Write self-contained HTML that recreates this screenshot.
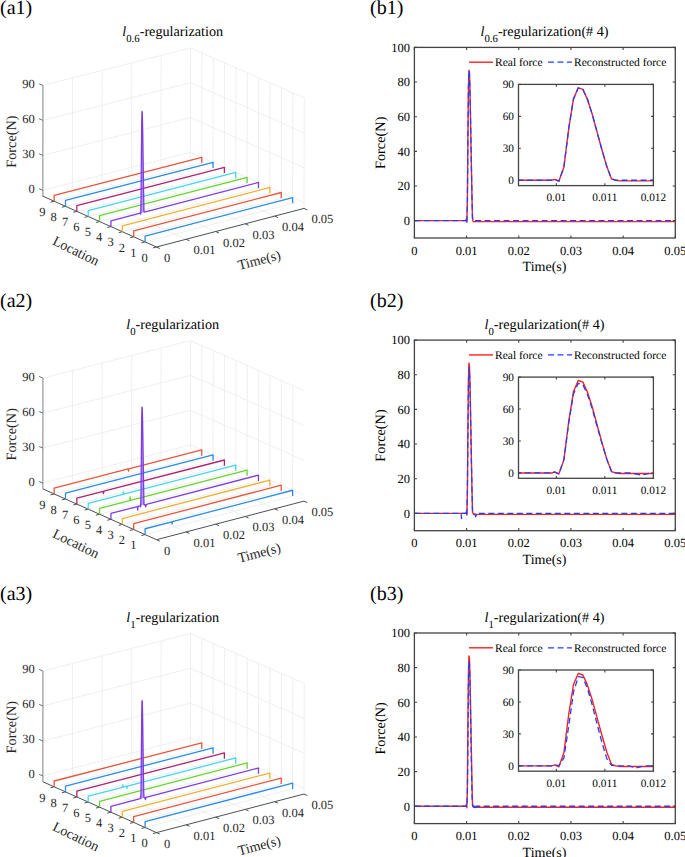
<!DOCTYPE html>
<html><head><meta charset="utf-8"><style>
html,body{margin:0;padding:0;background:#fff;}
svg{display:block;}
text{text-rendering:geometricPrecision;}
</style></head><body>
<svg width="685" height="857" viewBox="0 0 685 857" font-family="'Liberation Serif', serif">
<rect width="685" height="857" fill="#fff"/>
<g><line x1="72.48" y1="188.5" x2="72.54" y2="77.85" stroke="#e9ecec" stroke-width="0.8"/><line x1="102.07" y1="180.85" x2="102.15" y2="70.33" stroke="#e9ecec" stroke-width="0.8"/><line x1="131.59" y1="173.23" x2="131.69" y2="62.83" stroke="#e9ecec" stroke-width="0.8"/><line x1="161.04" y1="165.62" x2="161.16" y2="55.35" stroke="#e9ecec" stroke-width="0.8"/><line x1="190.42" y1="158.03" x2="190.56" y2="47.88" stroke="#e9ecec" stroke-width="0.8"/><line x1="42.83" y1="190.33" x2="190.42" y2="152.24" stroke="#e9ecec" stroke-width="0.8"/><line x1="42.84" y1="155.37" x2="190.47" y2="117.47" stroke="#e9ecec" stroke-width="0.8"/><line x1="42.85" y1="120.38" x2="190.51" y2="82.68" stroke="#e9ecec" stroke-width="0.8"/><line x1="42.86" y1="85.39" x2="190.56" y2="47.88" stroke="#e9ecec" stroke-width="0.8"/><line x1="304.02" y1="208.42" x2="304.25" y2="97.86" stroke="#e9ecec" stroke-width="0.8"/><line x1="292.62" y1="203.36" x2="292.84" y2="92.84" stroke="#e9ecec" stroke-width="0.8"/><line x1="281.23" y1="198.31" x2="281.44" y2="87.83" stroke="#e9ecec" stroke-width="0.8"/><line x1="269.85" y1="193.26" x2="270.05" y2="82.82" stroke="#e9ecec" stroke-width="0.8"/><line x1="258.47" y1="188.21" x2="258.66" y2="77.82" stroke="#e9ecec" stroke-width="0.8"/><line x1="247.1" y1="183.17" x2="247.29" y2="72.82" stroke="#e9ecec" stroke-width="0.8"/><line x1="235.75" y1="178.14" x2="235.93" y2="67.82" stroke="#e9ecec" stroke-width="0.8"/><line x1="224.4" y1="173.1" x2="224.57" y2="62.83" stroke="#e9ecec" stroke-width="0.8"/><line x1="213.06" y1="168.08" x2="213.22" y2="57.84" stroke="#e9ecec" stroke-width="0.8"/><line x1="201.74" y1="163.05" x2="201.89" y2="52.86" stroke="#e9ecec" stroke-width="0.8"/><line x1="304.04" y1="202.6" x2="190.42" y2="152.24" stroke="#e9ecec" stroke-width="0.8"/><line x1="304.11" y1="167.7" x2="190.47" y2="117.47" stroke="#e9ecec" stroke-width="0.8"/><line x1="304.18" y1="132.79" x2="190.51" y2="82.68" stroke="#e9ecec" stroke-width="0.8"/><line x1="304.25" y1="97.86" x2="190.56" y2="47.88" stroke="#e9ecec" stroke-width="0.8"/><line x1="186.15" y1="239.25" x2="72.48" y2="188.5" stroke="#e9ecec" stroke-width="0.8"/><line x1="215.72" y1="231.51" x2="102.07" y2="180.85" stroke="#e9ecec" stroke-width="0.8"/><line x1="245.22" y1="223.79" x2="131.59" y2="173.23" stroke="#e9ecec" stroke-width="0.8"/><line x1="274.66" y1="216.1" x2="161.04" y2="165.62" stroke="#e9ecec" stroke-width="0.8"/><line x1="145.09" y1="241.89" x2="292.62" y2="203.36" stroke="#e9ecec" stroke-width="0.8"/><line x1="133.69" y1="236.8" x2="281.23" y2="198.31" stroke="#e9ecec" stroke-width="0.8"/><line x1="122.3" y1="231.7" x2="269.85" y2="193.26" stroke="#e9ecec" stroke-width="0.8"/><line x1="110.92" y1="226.61" x2="258.47" y2="188.21" stroke="#e9ecec" stroke-width="0.8"/><line x1="99.55" y1="221.53" x2="247.1" y2="183.17" stroke="#e9ecec" stroke-width="0.8"/><line x1="88.19" y1="216.44" x2="235.75" y2="178.14" stroke="#e9ecec" stroke-width="0.8"/><line x1="76.83" y1="211.37" x2="224.4" y2="173.1" stroke="#e9ecec" stroke-width="0.8"/><line x1="65.49" y1="206.29" x2="213.06" y2="168.08" stroke="#e9ecec" stroke-width="0.8"/><line x1="54.15" y1="201.22" x2="201.74" y2="163.05" stroke="#e9ecec" stroke-width="0.8"/></g>
<g><line x1="42.83" y1="196.16" x2="42.86" y2="85.39" stroke="#a9adad" stroke-width="1.5"/><line x1="42.83" y1="196.16" x2="156.5" y2="247" stroke="#4a5252" stroke-width="1.0"/><line x1="156.5" y1="247" x2="304.02" y2="208.42" stroke="#4a5252" stroke-width="1.0"/><line x1="42.83" y1="190.33" x2="39.13" y2="188.73" stroke="#6a7070" stroke-width="1"/><line x1="42.84" y1="155.37" x2="39.14" y2="153.77" stroke="#6a7070" stroke-width="1"/><line x1="42.85" y1="120.38" x2="39.15" y2="118.78" stroke="#6a7070" stroke-width="1"/><line x1="42.86" y1="85.39" x2="39.16" y2="83.79" stroke="#6a7070" stroke-width="1"/><line x1="156.5" y1="247" x2="152.9" y2="247.95" stroke="#4a5252" stroke-width="1"/><line x1="145.09" y1="241.89" x2="141.49" y2="242.84" stroke="#4a5252" stroke-width="1"/><line x1="133.69" y1="236.8" x2="130.09" y2="237.75" stroke="#4a5252" stroke-width="1"/><line x1="122.3" y1="231.7" x2="118.7" y2="232.65" stroke="#4a5252" stroke-width="1"/><line x1="110.92" y1="226.61" x2="107.32" y2="227.56" stroke="#4a5252" stroke-width="1"/><line x1="99.55" y1="221.53" x2="95.95" y2="222.48" stroke="#4a5252" stroke-width="1"/><line x1="88.19" y1="216.44" x2="84.59" y2="217.39" stroke="#4a5252" stroke-width="1"/><line x1="76.83" y1="211.37" x2="73.23" y2="212.32" stroke="#4a5252" stroke-width="1"/><line x1="65.49" y1="206.29" x2="61.89" y2="207.24" stroke="#4a5252" stroke-width="1"/><line x1="54.15" y1="201.22" x2="50.55" y2="202.17" stroke="#4a5252" stroke-width="1"/><line x1="156.5" y1="247" x2="159.8" y2="248.5" stroke="#4a5252" stroke-width="1"/><line x1="186.15" y1="239.25" x2="189.45" y2="240.75" stroke="#4a5252" stroke-width="1"/><line x1="215.72" y1="231.51" x2="219.02" y2="233.01" stroke="#4a5252" stroke-width="1"/><line x1="245.22" y1="223.79" x2="248.52" y2="225.29" stroke="#4a5252" stroke-width="1"/><line x1="274.66" y1="216.1" x2="277.96" y2="217.6" stroke="#4a5252" stroke-width="1"/><line x1="304.02" y1="208.42" x2="307.32" y2="209.92" stroke="#4a5252" stroke-width="1"/></g>
<g><polyline points="54.15,201.22 54.15,195.4 201.74,157.26 201.74,163.05" fill="none" stroke="#e8553a" stroke-width="1.3" stroke-linejoin="round"/><polyline points="65.49,206.29 65.49,200.46 213.07,162.28 213.06,168.08" fill="none" stroke="#2b8be6" stroke-width="1.3" stroke-linejoin="round"/><polyline points="76.83,211.37 76.83,205.53 224.41,167.3 224.4,173.1" fill="none" stroke="#b0226e" stroke-width="1.3" stroke-linejoin="round"/><polyline points="88.19,216.44 88.19,210.61 235.76,172.33 235.75,178.14" fill="none" stroke="#45d5f0" stroke-width="1.3" stroke-linejoin="round"/><polyline points="99.55,221.53 99.55,215.69 247.11,177.37 247.1,183.17" fill="none" stroke="#66d52e" stroke-width="1.3" stroke-linejoin="round"/><polygon points="140.28,213.14 140.49,212.04 140.73,214.07 141.05,198.59 141.39,155.22 141.71,123.62 142.01,111.4 142.29,113.08 142.56,124.1 142.84,140.49 143.1,159.1 143.39,178.86 143.68,197.56 143.94,210.67 144.21,212.12 144.42,212.06" fill="#8a5ae6" fill-opacity="0.6" stroke="none"/><polyline points="110.92,226.61 110.92,220.77 140.28,213.14 140.49,212.04 140.73,214.07 141.05,198.59 141.39,155.22 141.71,123.62 142.01,111.4 142.29,113.08 142.56,124.1 142.84,140.49 143.1,159.1 143.39,178.86 143.68,197.56 143.94,210.67 144.21,212.12 144.42,212.06 258.48,182.41 258.47,188.21" fill="none" stroke="#7d3ce0" stroke-width="1.3" stroke-linejoin="round"/><polyline points="122.3,231.7 122.31,225.86 269.86,187.45 269.85,193.26" fill="none" stroke="#f0b030" stroke-width="1.3" stroke-linejoin="round"/><polyline points="133.69,236.8 133.7,230.95 281.24,192.5 281.23,198.31" fill="none" stroke="#e8553a" stroke-width="1.3" stroke-linejoin="round"/><polyline points="145.09,241.89 145.1,236.05 292.63,197.55 292.62,203.36" fill="none" stroke="#2b8be6" stroke-width="1.3" stroke-linejoin="round"/></g>
<g font-size="12.5" fill="#262626"><text x="34.83" y="192.83" text-anchor="end">0</text><text x="34.84" y="157.87" text-anchor="end">30</text><text x="34.85" y="122.88" text-anchor="end">60</text><text x="34.86" y="87.89" text-anchor="end">90</text><text x="144.7" y="261.7" text-anchor="middle">0</text><text x="133.29" y="256.59" text-anchor="middle">1</text><text x="121.89" y="251.5" text-anchor="middle">2</text><text x="110.5" y="246.4" text-anchor="middle">3</text><text x="99.12" y="241.31" text-anchor="middle">4</text><text x="87.75" y="236.23" text-anchor="middle">5</text><text x="76.39" y="231.14" text-anchor="middle">6</text><text x="65.03" y="226.07" text-anchor="middle">7</text><text x="53.69" y="220.99" text-anchor="middle">8</text><text x="42.35" y="215.92" text-anchor="middle">9</text><text x="163.9" y="262">0</text><text x="193.55" y="254.25">0.01</text><text x="223.12" y="246.51">0.02</text><text x="252.62" y="238.79">0.03</text><text x="282.06" y="231.1">0.04</text><text x="311.42" y="223.42">0.05</text></g>
<text transform="translate(16.4,141.6) rotate(-90)" text-anchor="middle" font-size="14.3" fill="#262626">Force(N)</text>
<text transform="translate(74,255) rotate(26)" text-anchor="middle" font-size="14" fill="#262626">Location</text>
<text transform="translate(260.4,264.5) rotate(-14.6)" text-anchor="middle" font-size="14" fill="#262626">Time(s)</text>
<text x="172.7" y="36" text-anchor="middle" font-size="14.2" fill="#000"><tspan font-style="italic">l</tspan><tspan font-size="10.8" dy="6.4">0.6</tspan><tspan dy="-6.4">-regularization</tspan></text>
<text x="0" y="14" font-size="20" fill="#000">(a1)</text>
<g><clipPath id="c0"><rect x="414.4" y="47.4" width="260.9" height="190.6"/></clipPath><g clip-path="url(#c0)"><polyline points="414.4,220.67 466.06,220.67 466.42,219.11 466.85,222.23 467.39,199.36 467.93,135.08 468.42,88.29 468.94,70.27 469.43,72.87 469.93,89.33 470.45,113.76 470.94,141.49 471.48,170.94 472.02,198.84 472.51,218.42 472.99,220.67 473.36,221.63 675.3,221.63" fill="none" stroke="#ff2020" stroke-width="1.4" stroke-linejoin="round"/><polyline points="414.4,220.67 466.06,220.67 466.42,219.11 466.85,222.23 467.39,199.36 467.93,135.08 468.42,88.29 468.94,70.27 469.43,72.87 469.93,89.33 470.45,113.76 470.94,141.49 471.48,170.94 472.02,198.84 472.51,218.42 472.99,220.67 473.36,220.67 675.3,220.67" fill="none" stroke="#2040ff" stroke-width="1.3" stroke-dasharray="6,3.5" stroke-linejoin="round"/></g><rect x="414.4" y="47.4" width="260.9" height="190.6" fill="none" stroke="#444" stroke-width="1.3"/><path d="M414.4,238v-2.6M414.4,47.4v2.6M466.58,238v-2.6M466.58,47.4v2.6M518.76,238v-2.6M518.76,47.4v2.6M570.94,238v-2.6M570.94,47.4v2.6M623.12,238v-2.6M623.12,47.4v2.6M675.3,238v-2.6M675.3,47.4v2.6M414.4,220.67h2.6M675.3,220.67h-2.6M414.4,186.02h2.6M675.3,186.02h-2.6M414.4,151.36h2.6M675.3,151.36h-2.6M414.4,116.71h2.6M675.3,116.71h-2.6M414.4,82.05h2.6M675.3,82.05h-2.6M414.4,47.4h2.6M675.3,47.4h-2.6" stroke="#444" stroke-width="1.1" fill="none"/><g font-size="12.5" fill="#000"><text x="414.4" y="254.5" text-anchor="middle">0</text><text x="466.58" y="254.5" text-anchor="middle">0.01</text><text x="518.76" y="254.5" text-anchor="middle">0.02</text><text x="570.94" y="254.5" text-anchor="middle">0.03</text><text x="623.12" y="254.5" text-anchor="middle">0.04</text><text x="675.3" y="254.5" text-anchor="middle">0.05</text><text x="409.9" y="224.97" text-anchor="end">0</text><text x="409.9" y="190.32" text-anchor="end">20</text><text x="409.9" y="155.66" text-anchor="end">40</text><text x="409.9" y="121.01" text-anchor="end">60</text><text x="409.9" y="86.35" text-anchor="end">80</text><text x="409.9" y="51.7" text-anchor="end">100</text></g><text x="544.5" y="271.4" text-anchor="middle" font-size="14">Time(s)</text><text transform="translate(385.2,142.8) rotate(-90)" text-anchor="middle" font-size="14.3">Force(N)</text><text x="544.5" y="36" text-anchor="middle" font-size="14.2"><tspan font-style="italic">l</tspan><tspan font-size="10.8" dy="6.4">0.6</tspan><tspan dy="-6.4">-regularization(# 4)</tspan></text><text x="370" y="14" font-size="20">(b1)</text><line x1="469" y1="62.2" x2="493" y2="62.2" stroke="#ff2020" stroke-width="1.4"/><text x="495" y="66.2" font-size="11.5">Real force</text><line x1="548" y1="62.2" x2="572" y2="62.2" stroke="#2040ff" stroke-width="1.3" stroke-dasharray="6,3.5"/><text x="574" y="66.2" font-size="11.5">Reconstructed force</text><rect x="518.5" y="84.4" width="134.9" height="101.2" fill="#fff"/><clipPath id="ci0"><rect x="518.5" y="84.4" width="134.9" height="101.2"/></clipPath><g clip-path="url(#ci0)"><polyline points="71.1,180.27 551.5,180.27 554.89,179.31 558.87,181.23 563.87,167.17 568.87,127.65 573.48,98.89 578.28,87.81 582.89,89.41 587.5,99.53 592.31,114.55 596.92,131.59 601.91,149.7 606.91,166.85 611.52,178.89 615.94,180.27 619.43,180.86 2497.36,180.86" fill="none" stroke="#ff2020" stroke-width="1.4" stroke-linejoin="round"/><polyline points="71.1,180.27 551.5,180.27 554.89,179.31 558.87,181.23 563.87,167.17 568.87,127.65 573.48,98.89 578.28,87.81 582.89,89.41 587.5,99.53 592.31,114.55 596.92,131.59 601.91,149.7 606.91,166.85 611.52,178.89 615.94,180.27 619.43,180.27 2497.36,180.27" fill="none" stroke="#2040ff" stroke-width="1.3" stroke-dasharray="6,3.5" stroke-linejoin="round"/></g><rect x="518.5" y="84.4" width="134.9" height="101.2" fill="none" stroke="#444" stroke-width="1.3"/><path d="M556.35,185.6v-2.4M556.35,84.4v2.4M604.87,185.6v-2.4M604.87,84.4v2.4M653.4,185.6v-2.4M653.4,84.4v2.4M518.5,180.27h2.4M653.4,180.27h-2.4M518.5,148.32h2.4M653.4,148.32h-2.4M518.5,116.36h2.4M653.4,116.36h-2.4M518.5,84.4h2.4M653.4,84.4h-2.4" stroke="#444" stroke-width="1.1" fill="none"/><g font-size="11.3"><text x="556.35" y="201" text-anchor="middle">0.01</text><text x="604.87" y="201" text-anchor="middle">0.011</text><text x="653.4" y="201" text-anchor="middle">0.012</text><text x="514" y="184.27" text-anchor="end">0</text><text x="514" y="152.32" text-anchor="end">30</text><text x="514" y="120.36" text-anchor="end">60</text><text x="514" y="88.4" text-anchor="end">90</text></g></g>
<g><line x1="72.48" y1="481.2" x2="72.54" y2="370.55" stroke="#e9ecec" stroke-width="0.8"/><line x1="102.07" y1="473.55" x2="102.15" y2="363.03" stroke="#e9ecec" stroke-width="0.8"/><line x1="131.59" y1="465.93" x2="131.69" y2="355.53" stroke="#e9ecec" stroke-width="0.8"/><line x1="161.04" y1="458.32" x2="161.16" y2="348.05" stroke="#e9ecec" stroke-width="0.8"/><line x1="190.42" y1="450.73" x2="190.56" y2="340.58" stroke="#e9ecec" stroke-width="0.8"/><line x1="42.83" y1="483.03" x2="190.42" y2="444.94" stroke="#e9ecec" stroke-width="0.8"/><line x1="42.84" y1="448.07" x2="190.47" y2="410.17" stroke="#e9ecec" stroke-width="0.8"/><line x1="42.85" y1="413.08" x2="190.51" y2="375.38" stroke="#e9ecec" stroke-width="0.8"/><line x1="42.86" y1="378.09" x2="190.56" y2="340.58" stroke="#e9ecec" stroke-width="0.8"/><line x1="292.62" y1="496.06" x2="292.84" y2="385.54" stroke="#e9ecec" stroke-width="0.8"/><line x1="281.23" y1="491.01" x2="281.44" y2="380.53" stroke="#e9ecec" stroke-width="0.8"/><line x1="269.85" y1="485.96" x2="270.05" y2="375.52" stroke="#e9ecec" stroke-width="0.8"/><line x1="258.47" y1="480.91" x2="258.66" y2="370.52" stroke="#e9ecec" stroke-width="0.8"/><line x1="247.1" y1="475.87" x2="247.29" y2="365.52" stroke="#e9ecec" stroke-width="0.8"/><line x1="235.75" y1="470.84" x2="235.93" y2="360.52" stroke="#e9ecec" stroke-width="0.8"/><line x1="224.4" y1="465.8" x2="224.57" y2="355.53" stroke="#e9ecec" stroke-width="0.8"/><line x1="213.06" y1="460.78" x2="213.22" y2="350.54" stroke="#e9ecec" stroke-width="0.8"/><line x1="201.74" y1="455.75" x2="201.89" y2="345.56" stroke="#e9ecec" stroke-width="0.8"/><line x1="304.04" y1="495.3" x2="190.42" y2="444.94" stroke="#e9ecec" stroke-width="0.8"/><line x1="304.11" y1="460.4" x2="190.47" y2="410.17" stroke="#e9ecec" stroke-width="0.8"/><line x1="304.18" y1="425.49" x2="190.51" y2="375.38" stroke="#e9ecec" stroke-width="0.8"/><line x1="304.25" y1="390.56" x2="190.56" y2="340.58" stroke="#e9ecec" stroke-width="0.8"/><line x1="186.15" y1="531.95" x2="72.48" y2="481.2" stroke="#e9ecec" stroke-width="0.8"/><line x1="215.72" y1="524.21" x2="102.07" y2="473.55" stroke="#e9ecec" stroke-width="0.8"/><line x1="245.22" y1="516.49" x2="131.59" y2="465.93" stroke="#e9ecec" stroke-width="0.8"/><line x1="274.66" y1="508.8" x2="161.04" y2="458.32" stroke="#e9ecec" stroke-width="0.8"/><line x1="145.09" y1="534.59" x2="292.62" y2="496.06" stroke="#e9ecec" stroke-width="0.8"/><line x1="133.69" y1="529.5" x2="281.23" y2="491.01" stroke="#e9ecec" stroke-width="0.8"/><line x1="122.3" y1="524.4" x2="269.85" y2="485.96" stroke="#e9ecec" stroke-width="0.8"/><line x1="110.92" y1="519.31" x2="258.47" y2="480.91" stroke="#e9ecec" stroke-width="0.8"/><line x1="99.55" y1="514.23" x2="247.1" y2="475.87" stroke="#e9ecec" stroke-width="0.8"/><line x1="88.19" y1="509.14" x2="235.75" y2="470.84" stroke="#e9ecec" stroke-width="0.8"/><line x1="76.83" y1="504.07" x2="224.4" y2="465.8" stroke="#e9ecec" stroke-width="0.8"/><line x1="65.49" y1="498.99" x2="213.06" y2="460.78" stroke="#e9ecec" stroke-width="0.8"/><line x1="54.15" y1="493.92" x2="201.74" y2="455.75" stroke="#e9ecec" stroke-width="0.8"/></g>
<g><line x1="42.83" y1="488.86" x2="42.86" y2="378.09" stroke="#a9adad" stroke-width="1.5"/><line x1="42.83" y1="488.86" x2="156.5" y2="539.7" stroke="#4a5252" stroke-width="1.0"/><line x1="156.5" y1="539.7" x2="304.02" y2="501.12" stroke="#4a5252" stroke-width="1.0"/><line x1="42.83" y1="483.03" x2="39.13" y2="481.43" stroke="#6a7070" stroke-width="1"/><line x1="42.84" y1="448.07" x2="39.14" y2="446.47" stroke="#6a7070" stroke-width="1"/><line x1="42.85" y1="413.08" x2="39.15" y2="411.48" stroke="#6a7070" stroke-width="1"/><line x1="42.86" y1="378.09" x2="39.16" y2="376.49" stroke="#6a7070" stroke-width="1"/><line x1="145.09" y1="534.59" x2="141.49" y2="535.54" stroke="#4a5252" stroke-width="1"/><line x1="133.69" y1="529.5" x2="130.09" y2="530.45" stroke="#4a5252" stroke-width="1"/><line x1="122.3" y1="524.4" x2="118.7" y2="525.35" stroke="#4a5252" stroke-width="1"/><line x1="110.92" y1="519.31" x2="107.32" y2="520.26" stroke="#4a5252" stroke-width="1"/><line x1="99.55" y1="514.23" x2="95.95" y2="515.18" stroke="#4a5252" stroke-width="1"/><line x1="88.19" y1="509.14" x2="84.59" y2="510.09" stroke="#4a5252" stroke-width="1"/><line x1="76.83" y1="504.07" x2="73.23" y2="505.02" stroke="#4a5252" stroke-width="1"/><line x1="65.49" y1="498.99" x2="61.89" y2="499.94" stroke="#4a5252" stroke-width="1"/><line x1="54.15" y1="493.92" x2="50.55" y2="494.87" stroke="#4a5252" stroke-width="1"/><line x1="156.5" y1="539.7" x2="159.8" y2="541.2" stroke="#4a5252" stroke-width="1"/><line x1="186.15" y1="531.95" x2="189.45" y2="533.45" stroke="#4a5252" stroke-width="1"/><line x1="215.72" y1="524.21" x2="219.02" y2="525.71" stroke="#4a5252" stroke-width="1"/><line x1="245.22" y1="516.49" x2="248.52" y2="517.99" stroke="#4a5252" stroke-width="1"/><line x1="274.66" y1="508.8" x2="277.96" y2="510.3" stroke="#4a5252" stroke-width="1"/><line x1="304.02" y1="501.12" x2="307.32" y2="502.62" stroke="#4a5252" stroke-width="1"/></g>
<g><polyline points="54.15,493.92 54.15,488.1 128.11,468.98 128.46,471.22 128.81,468.8 201.74,449.96 201.74,455.75" fill="none" stroke="#e8553a" stroke-width="1.3" stroke-linejoin="round"/><polyline points="65.49,498.99 65.49,493.16 213.07,454.98 213.06,460.78" fill="none" stroke="#2b8be6" stroke-width="1.3" stroke-linejoin="round"/><polyline points="76.83,504.07 76.83,498.23 103.17,491.41 103.52,493.65 103.88,491.23 224.41,460 224.4,465.8" fill="none" stroke="#b0226e" stroke-width="1.3" stroke-linejoin="round"/><polyline points="88.19,509.14 88.19,503.31 122.96,494.29 123.32,491.87 123.68,494.11 235.76,465.03 235.75,470.84" fill="none" stroke="#45d5f0" stroke-width="1.3" stroke-linejoin="round"/><polyline points="99.55,514.23 99.55,508.39 129.74,500.55 130.1,496.96 130.45,500.37 247.11,470.07 247.1,475.87" fill="none" stroke="#66d52e" stroke-width="1.3" stroke-linejoin="round"/><polygon points="140.28,505.84 140.49,504.74 140.73,506.77 141.05,491.29 141.39,449.65 141.7,419 142.01,407.14 142.29,408.77 142.56,419.46 142.84,435.35 143.1,453.4 143.39,472.56 143.68,490.26 143.94,503.37 144.21,504.82 144.42,504.76" fill="#8a5ae6" fill-opacity="0.6" stroke="none"/><polyline points="110.92,519.31 110.92,513.47 137.47,506.57 137.7,510.01 137.94,506.45 140.28,505.84 140.49,504.74 140.73,506.77 141.05,491.29 141.39,449.65 141.7,419 142.01,407.14 142.29,408.77 142.56,419.46 142.84,435.35 143.1,453.4 143.39,472.56 143.68,490.26 143.94,503.37 144.21,504.82 144.42,504.76 145.16,504.57 145.75,506.75 146.35,504.26 258.48,475.11 258.47,480.91" fill="none" stroke="#7d3ce0" stroke-width="1.3" stroke-linejoin="round"/><polyline points="122.3,524.4 122.31,518.56 269.86,480.15 269.85,485.96" fill="none" stroke="#f0b030" stroke-width="1.3" stroke-linejoin="round"/><polyline points="133.69,529.5 133.7,523.65 281.24,485.2 281.23,491.01" fill="none" stroke="#e8553a" stroke-width="1.3" stroke-linejoin="round"/><polyline points="145.09,534.59 145.1,528.75 171.78,521.79 172.14,524.03 172.49,521.6 292.63,490.25 292.62,496.06" fill="none" stroke="#2b8be6" stroke-width="1.3" stroke-linejoin="round"/></g>
<g font-size="12.5" fill="#262626"><text x="34.83" y="485.53" text-anchor="end">0</text><text x="34.84" y="450.57" text-anchor="end">30</text><text x="34.85" y="415.58" text-anchor="end">60</text><text x="34.86" y="380.59" text-anchor="end">90</text><text x="133.29" y="549.29" text-anchor="middle">1</text><text x="121.89" y="544.2" text-anchor="middle">2</text><text x="110.5" y="539.1" text-anchor="middle">3</text><text x="99.12" y="534.01" text-anchor="middle">4</text><text x="87.75" y="528.93" text-anchor="middle">5</text><text x="76.39" y="523.84" text-anchor="middle">6</text><text x="65.03" y="518.77" text-anchor="middle">7</text><text x="53.69" y="513.69" text-anchor="middle">8</text><text x="42.35" y="508.62" text-anchor="middle">9</text><text x="163.9" y="554.7">0</text><text x="193.55" y="546.95">0.01</text><text x="223.12" y="539.21">0.02</text><text x="252.62" y="531.49">0.03</text><text x="282.06" y="523.8">0.04</text><text x="311.42" y="516.12">0.05</text></g>
<text transform="translate(16.4,434.3) rotate(-90)" text-anchor="middle" font-size="14.3" fill="#262626">Force(N)</text>
<text transform="translate(74,547.7) rotate(26)" text-anchor="middle" font-size="14" fill="#262626">Location</text>
<text transform="translate(260.4,557.2) rotate(-14.6)" text-anchor="middle" font-size="14" fill="#262626">Time(s)</text>
<text x="172.7" y="328.7" text-anchor="middle" font-size="14.2" fill="#000"><tspan font-style="italic">l</tspan><tspan font-size="10.8" dy="6.4">0</tspan><tspan dy="-6.4">-regularization</tspan></text>
<text x="0" y="306.7" font-size="20" fill="#000">(a2)</text>
<g><clipPath id="c1"><rect x="414.4" y="340.1" width="260.9" height="190.6"/></clipPath><g clip-path="url(#c1)"><polyline points="414.4,513.37 466.06,513.37 466.42,511.81 466.85,514.93 467.39,492.06 467.93,427.78 468.42,380.99 468.94,362.97 469.43,365.57 469.93,382.03 470.45,406.46 470.94,434.19 471.48,463.64 472.02,491.54 472.51,511.12 472.99,513.37 473.36,514.33 675.3,514.33" fill="none" stroke="#ff2020" stroke-width="1.4" stroke-linejoin="round"/><polyline points="414.4,513.37 461.1,513.37 461.52,518.57 461.94,513.37 466.06,513.37 466.42,511.81 466.85,514.93 467.39,492.06 467.93,430.34 468.42,384.96 468.94,367.48 469.43,370.01 469.93,385.97 470.45,409.67 470.94,436.56 471.48,465.14 472.02,491.54 472.51,511.12 472.99,513.37 473.36,513.37 474.67,513.37 475.71,516.84 476.76,513.37 675.3,513.37" fill="none" stroke="#2040ff" stroke-width="1.3" stroke-dasharray="6,3.5" stroke-linejoin="round"/></g><rect x="414.4" y="340.1" width="260.9" height="190.6" fill="none" stroke="#444" stroke-width="1.3"/><path d="M414.4,530.7v-2.6M414.4,340.1v2.6M466.58,530.7v-2.6M466.58,340.1v2.6M518.76,530.7v-2.6M518.76,340.1v2.6M570.94,530.7v-2.6M570.94,340.1v2.6M623.12,530.7v-2.6M623.12,340.1v2.6M675.3,530.7v-2.6M675.3,340.1v2.6M414.4,513.37h2.6M675.3,513.37h-2.6M414.4,478.72h2.6M675.3,478.72h-2.6M414.4,444.06h2.6M675.3,444.06h-2.6M414.4,409.41h2.6M675.3,409.41h-2.6M414.4,374.75h2.6M675.3,374.75h-2.6M414.4,340.1h2.6M675.3,340.1h-2.6" stroke="#444" stroke-width="1.1" fill="none"/><g font-size="12.5" fill="#000"><text x="414.4" y="547.2" text-anchor="middle">0</text><text x="466.58" y="547.2" text-anchor="middle">0.01</text><text x="518.76" y="547.2" text-anchor="middle">0.02</text><text x="570.94" y="547.2" text-anchor="middle">0.03</text><text x="623.12" y="547.2" text-anchor="middle">0.04</text><text x="675.3" y="547.2" text-anchor="middle">0.05</text><text x="409.9" y="517.67" text-anchor="end">0</text><text x="409.9" y="483.02" text-anchor="end">20</text><text x="409.9" y="448.36" text-anchor="end">40</text><text x="409.9" y="413.71" text-anchor="end">60</text><text x="409.9" y="379.05" text-anchor="end">80</text><text x="409.9" y="344.4" text-anchor="end">100</text></g><text x="544.5" y="564.1" text-anchor="middle" font-size="14">Time(s)</text><text transform="translate(385.2,435.5) rotate(-90)" text-anchor="middle" font-size="14.3">Force(N)</text><text x="544.5" y="328.7" text-anchor="middle" font-size="14.2"><tspan font-style="italic">l</tspan><tspan font-size="10.8" dy="6.4">0</tspan><tspan dy="-6.4">-regularization(# 4)</tspan></text><text x="370" y="306.7" font-size="20">(b2)</text><line x1="469" y1="354.9" x2="493" y2="354.9" stroke="#ff2020" stroke-width="1.4"/><text x="495" y="358.9" font-size="11.5">Real force</text><line x1="548" y1="354.9" x2="572" y2="354.9" stroke="#2040ff" stroke-width="1.3" stroke-dasharray="6,3.5"/><text x="574" y="358.9" font-size="11.5">Reconstructed force</text><rect x="518.5" y="377.1" width="134.9" height="101.2" fill="#fff"/><clipPath id="ci1"><rect x="518.5" y="377.1" width="134.9" height="101.2"/></clipPath><g clip-path="url(#ci1)"><polyline points="71.1,472.97 551.5,472.97 554.89,472.01 558.87,473.93 563.87,459.87 568.87,420.35 573.48,391.59 578.28,380.51 582.89,382.11 587.5,392.23 592.31,407.25 596.92,424.29 601.91,442.4 606.91,459.55 611.52,471.59 615.94,472.97 619.43,473.56 2497.36,473.56" fill="none" stroke="#ff2020" stroke-width="1.4" stroke-linejoin="round"/><polyline points="71.1,472.97 505.4,472.97 509.28,476.17 513.16,472.97 551.5,472.97 554.89,472.01 558.87,473.93 563.87,459.87 568.87,421.93 573.48,394.03 578.28,383.28 582.89,384.83 587.5,394.65 592.31,409.22 596.92,425.75 601.91,443.32 606.91,459.55 611.52,471.59 615.94,472.97 619.43,472.97 631.56,472.97 641.27,475.1 650.97,472.97 2497.36,472.97" fill="none" stroke="#2040ff" stroke-width="1.3" stroke-dasharray="6,3.5" stroke-linejoin="round"/></g><rect x="518.5" y="377.1" width="134.9" height="101.2" fill="none" stroke="#444" stroke-width="1.3"/><path d="M556.35,478.3v-2.4M556.35,377.1v2.4M604.87,478.3v-2.4M604.87,377.1v2.4M653.4,478.3v-2.4M653.4,377.1v2.4M518.5,472.97h2.4M653.4,472.97h-2.4M518.5,441.02h2.4M653.4,441.02h-2.4M518.5,409.06h2.4M653.4,409.06h-2.4M518.5,377.1h2.4M653.4,377.1h-2.4" stroke="#444" stroke-width="1.1" fill="none"/><g font-size="11.3"><text x="556.35" y="493.7" text-anchor="middle">0.01</text><text x="604.87" y="493.7" text-anchor="middle">0.011</text><text x="653.4" y="493.7" text-anchor="middle">0.012</text><text x="514" y="476.97" text-anchor="end">0</text><text x="514" y="445.02" text-anchor="end">30</text><text x="514" y="413.06" text-anchor="end">60</text><text x="514" y="381.1" text-anchor="end">90</text></g></g>
<g><line x1="72.48" y1="774.1" x2="72.54" y2="663.45" stroke="#e9ecec" stroke-width="0.8"/><line x1="102.07" y1="766.45" x2="102.15" y2="655.93" stroke="#e9ecec" stroke-width="0.8"/><line x1="131.59" y1="758.83" x2="131.69" y2="648.43" stroke="#e9ecec" stroke-width="0.8"/><line x1="161.04" y1="751.22" x2="161.16" y2="640.95" stroke="#e9ecec" stroke-width="0.8"/><line x1="190.42" y1="743.63" x2="190.56" y2="633.48" stroke="#e9ecec" stroke-width="0.8"/><line x1="42.83" y1="775.93" x2="190.42" y2="737.84" stroke="#e9ecec" stroke-width="0.8"/><line x1="42.84" y1="740.97" x2="190.47" y2="703.07" stroke="#e9ecec" stroke-width="0.8"/><line x1="42.85" y1="705.98" x2="190.51" y2="668.28" stroke="#e9ecec" stroke-width="0.8"/><line x1="42.86" y1="670.99" x2="190.56" y2="633.48" stroke="#e9ecec" stroke-width="0.8"/><line x1="304.02" y1="794.02" x2="304.25" y2="683.46" stroke="#e9ecec" stroke-width="0.8"/><line x1="292.62" y1="788.96" x2="292.84" y2="678.44" stroke="#e9ecec" stroke-width="0.8"/><line x1="281.23" y1="783.91" x2="281.44" y2="673.43" stroke="#e9ecec" stroke-width="0.8"/><line x1="269.85" y1="778.86" x2="270.05" y2="668.42" stroke="#e9ecec" stroke-width="0.8"/><line x1="258.47" y1="773.81" x2="258.66" y2="663.42" stroke="#e9ecec" stroke-width="0.8"/><line x1="247.1" y1="768.77" x2="247.29" y2="658.42" stroke="#e9ecec" stroke-width="0.8"/><line x1="235.75" y1="763.74" x2="235.93" y2="653.42" stroke="#e9ecec" stroke-width="0.8"/><line x1="224.4" y1="758.7" x2="224.57" y2="648.43" stroke="#e9ecec" stroke-width="0.8"/><line x1="213.06" y1="753.68" x2="213.22" y2="643.44" stroke="#e9ecec" stroke-width="0.8"/><line x1="201.74" y1="748.65" x2="201.89" y2="638.46" stroke="#e9ecec" stroke-width="0.8"/><line x1="304.04" y1="788.2" x2="190.42" y2="737.84" stroke="#e9ecec" stroke-width="0.8"/><line x1="304.11" y1="753.3" x2="190.47" y2="703.07" stroke="#e9ecec" stroke-width="0.8"/><line x1="304.18" y1="718.39" x2="190.51" y2="668.28" stroke="#e9ecec" stroke-width="0.8"/><line x1="304.25" y1="683.46" x2="190.56" y2="633.48" stroke="#e9ecec" stroke-width="0.8"/><line x1="186.15" y1="824.85" x2="72.48" y2="774.1" stroke="#e9ecec" stroke-width="0.8"/><line x1="215.72" y1="817.11" x2="102.07" y2="766.45" stroke="#e9ecec" stroke-width="0.8"/><line x1="245.22" y1="809.39" x2="131.59" y2="758.83" stroke="#e9ecec" stroke-width="0.8"/><line x1="274.66" y1="801.7" x2="161.04" y2="751.22" stroke="#e9ecec" stroke-width="0.8"/><line x1="145.09" y1="827.49" x2="292.62" y2="788.96" stroke="#e9ecec" stroke-width="0.8"/><line x1="133.69" y1="822.4" x2="281.23" y2="783.91" stroke="#e9ecec" stroke-width="0.8"/><line x1="122.3" y1="817.3" x2="269.85" y2="778.86" stroke="#e9ecec" stroke-width="0.8"/><line x1="110.92" y1="812.21" x2="258.47" y2="773.81" stroke="#e9ecec" stroke-width="0.8"/><line x1="99.55" y1="807.13" x2="247.1" y2="768.77" stroke="#e9ecec" stroke-width="0.8"/><line x1="88.19" y1="802.04" x2="235.75" y2="763.74" stroke="#e9ecec" stroke-width="0.8"/><line x1="76.83" y1="796.97" x2="224.4" y2="758.7" stroke="#e9ecec" stroke-width="0.8"/><line x1="65.49" y1="791.89" x2="213.06" y2="753.68" stroke="#e9ecec" stroke-width="0.8"/><line x1="54.15" y1="786.82" x2="201.74" y2="748.65" stroke="#e9ecec" stroke-width="0.8"/></g>
<g><line x1="42.83" y1="781.76" x2="42.86" y2="670.99" stroke="#a9adad" stroke-width="1.5"/><line x1="42.83" y1="781.76" x2="156.5" y2="832.6" stroke="#4a5252" stroke-width="1.0"/><line x1="156.5" y1="832.6" x2="304.02" y2="794.02" stroke="#4a5252" stroke-width="1.0"/><line x1="42.83" y1="775.93" x2="39.13" y2="774.33" stroke="#6a7070" stroke-width="1"/><line x1="42.84" y1="740.97" x2="39.14" y2="739.37" stroke="#6a7070" stroke-width="1"/><line x1="42.85" y1="705.98" x2="39.15" y2="704.38" stroke="#6a7070" stroke-width="1"/><line x1="42.86" y1="670.99" x2="39.16" y2="669.39" stroke="#6a7070" stroke-width="1"/><line x1="156.5" y1="832.6" x2="152.9" y2="833.55" stroke="#4a5252" stroke-width="1"/><line x1="145.09" y1="827.49" x2="141.49" y2="828.44" stroke="#4a5252" stroke-width="1"/><line x1="133.69" y1="822.4" x2="130.09" y2="823.35" stroke="#4a5252" stroke-width="1"/><line x1="122.3" y1="817.3" x2="118.7" y2="818.25" stroke="#4a5252" stroke-width="1"/><line x1="110.92" y1="812.21" x2="107.32" y2="813.16" stroke="#4a5252" stroke-width="1"/><line x1="99.55" y1="807.13" x2="95.95" y2="808.08" stroke="#4a5252" stroke-width="1"/><line x1="88.19" y1="802.04" x2="84.59" y2="802.99" stroke="#4a5252" stroke-width="1"/><line x1="76.83" y1="796.97" x2="73.23" y2="797.92" stroke="#4a5252" stroke-width="1"/><line x1="65.49" y1="791.89" x2="61.89" y2="792.84" stroke="#4a5252" stroke-width="1"/><line x1="54.15" y1="786.82" x2="50.55" y2="787.77" stroke="#4a5252" stroke-width="1"/><line x1="156.5" y1="832.6" x2="159.8" y2="834.1" stroke="#4a5252" stroke-width="1"/><line x1="186.15" y1="824.85" x2="189.45" y2="826.35" stroke="#4a5252" stroke-width="1"/><line x1="215.72" y1="817.11" x2="219.02" y2="818.61" stroke="#4a5252" stroke-width="1"/><line x1="245.22" y1="809.39" x2="248.52" y2="810.89" stroke="#4a5252" stroke-width="1"/><line x1="274.66" y1="801.7" x2="277.96" y2="803.2" stroke="#4a5252" stroke-width="1"/><line x1="304.02" y1="794.02" x2="307.32" y2="795.52" stroke="#4a5252" stroke-width="1"/></g>
<g><polyline points="54.15,786.82 54.15,781 201.74,742.86 201.74,748.65" fill="none" stroke="#e8553a" stroke-width="1.3" stroke-linejoin="round"/><polyline points="65.49,791.89 65.49,786.06 213.07,747.88 213.06,753.68" fill="none" stroke="#2b8be6" stroke-width="1.3" stroke-linejoin="round"/><polyline points="76.83,796.97 76.83,791.13 224.41,752.9 224.4,758.7" fill="none" stroke="#b0226e" stroke-width="1.3" stroke-linejoin="round"/><polyline points="88.19,802.04 88.19,796.21 122.52,787.3 122.88,784.88 123.23,787.12 126.66,786.23 127.02,788.47 127.38,786.05 235.76,757.93 235.75,763.74" fill="none" stroke="#45d5f0" stroke-width="1.3" stroke-linejoin="round"/><polyline points="99.55,807.13 99.55,801.29 247.11,762.97 247.1,768.77" fill="none" stroke="#66d52e" stroke-width="1.3" stroke-linejoin="round"/><polygon points="140.28,798.74 140.49,797.66 140.73,798.44 141.04,790.1 141.38,753.69 141.7,717.43 142.01,700.57 142.29,701.25 142.56,713.55 142.83,731.7 143.1,751.53 143.38,772.31 143.67,790.25 143.94,797.27 144.21,797.72 144.42,797.66" fill="#8a5ae6" fill-opacity="0.6" stroke="none"/><polyline points="110.92,812.21 110.92,806.37 140.28,798.74 140.49,797.66 140.73,798.44 141.04,790.1 141.38,753.69 141.7,717.43 142.01,700.57 142.29,701.25 142.56,713.55 142.83,731.7 143.1,751.53 143.38,772.31 143.67,790.25 143.94,797.27 144.21,797.72 144.42,797.66 145.02,797.51 145.46,799.73 145.9,797.28 258.48,768.01 258.47,773.81" fill="none" stroke="#7d3ce0" stroke-width="1.3" stroke-linejoin="round"/><polyline points="122.3,817.3 122.31,811.46 269.86,773.05 269.85,778.86" fill="none" stroke="#f0b030" stroke-width="1.3" stroke-linejoin="round"/><polyline points="133.69,822.4 133.7,816.55 281.24,778.1 281.23,783.91" fill="none" stroke="#e8553a" stroke-width="1.3" stroke-linejoin="round"/><polyline points="145.09,827.49 145.1,821.65 292.63,783.15 292.62,788.96" fill="none" stroke="#2b8be6" stroke-width="1.3" stroke-linejoin="round"/></g>
<g font-size="12.5" fill="#262626"><text x="34.83" y="778.43" text-anchor="end">0</text><text x="34.84" y="743.47" text-anchor="end">30</text><text x="34.85" y="708.48" text-anchor="end">60</text><text x="34.86" y="673.49" text-anchor="end">90</text><text x="144.7" y="847.3" text-anchor="middle">0</text><text x="133.29" y="842.19" text-anchor="middle">1</text><text x="121.89" y="837.1" text-anchor="middle">2</text><text x="110.5" y="832" text-anchor="middle">3</text><text x="99.12" y="826.91" text-anchor="middle">4</text><text x="87.75" y="821.83" text-anchor="middle">5</text><text x="76.39" y="816.74" text-anchor="middle">6</text><text x="65.03" y="811.67" text-anchor="middle">7</text><text x="53.69" y="806.59" text-anchor="middle">8</text><text x="42.35" y="801.52" text-anchor="middle">9</text><text x="163.9" y="847.6">0</text><text x="193.55" y="839.85">0.01</text><text x="223.12" y="832.11">0.02</text><text x="252.62" y="824.39">0.03</text><text x="282.06" y="816.7">0.04</text><text x="311.42" y="809.02">0.05</text></g>
<text transform="translate(16.4,727.2) rotate(-90)" text-anchor="middle" font-size="14.3" fill="#262626">Force(N)</text>
<text transform="translate(74,840.6) rotate(26)" text-anchor="middle" font-size="14" fill="#262626">Location</text>
<text transform="translate(260.4,850.1) rotate(-14.6)" text-anchor="middle" font-size="14" fill="#262626">Time(s)</text>
<text x="172.7" y="621.6" text-anchor="middle" font-size="14.2" fill="#000"><tspan font-style="italic">l</tspan><tspan font-size="10.8" dy="6.4">1</tspan><tspan dy="-6.4">-regularization</tspan></text>
<text x="0" y="599.6" font-size="20" fill="#000">(a3)</text>
<g><clipPath id="c2"><rect x="414.4" y="633" width="260.9" height="190.6"/></clipPath><g clip-path="url(#c2)"><polyline points="414.4,806.27 466.06,806.27 466.42,804.71 466.85,807.83 467.39,784.96 467.93,720.68 468.42,673.89 468.94,655.87 469.43,658.47 469.93,674.93 470.45,699.36 470.94,727.09 471.48,756.54 472.02,784.44 472.51,804.02 472.99,806.27 473.36,807.23 675.3,807.23" fill="none" stroke="#ff2020" stroke-width="1.4" stroke-linejoin="round"/><polyline points="414.4,806.27 466.06,806.27 466.42,804.75 466.85,806 467.39,793.74 467.93,739.79 468.42,686.08 468.94,661.18 469.43,662.28 469.93,680.64 470.45,707.69 470.94,737.23 471.48,768.21 472.02,794.96 472.51,805.5 472.99,806.27 473.36,806.27 474.41,806.27 475.19,809.74 475.97,806.27 675.3,806.27" fill="none" stroke="#2040ff" stroke-width="1.3" stroke-dasharray="6,3.5" stroke-linejoin="round"/></g><rect x="414.4" y="633" width="260.9" height="190.6" fill="none" stroke="#444" stroke-width="1.3"/><path d="M414.4,823.6v-2.6M414.4,633v2.6M466.58,823.6v-2.6M466.58,633v2.6M518.76,823.6v-2.6M518.76,633v2.6M570.94,823.6v-2.6M570.94,633v2.6M623.12,823.6v-2.6M623.12,633v2.6M675.3,823.6v-2.6M675.3,633v2.6M414.4,806.27h2.6M675.3,806.27h-2.6M414.4,771.62h2.6M675.3,771.62h-2.6M414.4,736.96h2.6M675.3,736.96h-2.6M414.4,702.31h2.6M675.3,702.31h-2.6M414.4,667.65h2.6M675.3,667.65h-2.6M414.4,633h2.6M675.3,633h-2.6" stroke="#444" stroke-width="1.1" fill="none"/><g font-size="12.5" fill="#000"><text x="414.4" y="840.1" text-anchor="middle">0</text><text x="466.58" y="840.1" text-anchor="middle">0.01</text><text x="518.76" y="840.1" text-anchor="middle">0.02</text><text x="570.94" y="840.1" text-anchor="middle">0.03</text><text x="623.12" y="840.1" text-anchor="middle">0.04</text><text x="675.3" y="840.1" text-anchor="middle">0.05</text><text x="409.9" y="810.57" text-anchor="end">0</text><text x="409.9" y="775.92" text-anchor="end">20</text><text x="409.9" y="741.26" text-anchor="end">40</text><text x="409.9" y="706.61" text-anchor="end">60</text><text x="409.9" y="671.95" text-anchor="end">80</text><text x="409.9" y="637.3" text-anchor="end">100</text></g><text x="544.5" y="857" text-anchor="middle" font-size="14">Time(s)</text><text transform="translate(385.2,728.4) rotate(-90)" text-anchor="middle" font-size="14.3">Force(N)</text><text x="544.5" y="621.6" text-anchor="middle" font-size="14.2"><tspan font-style="italic">l</tspan><tspan font-size="10.8" dy="6.4">1</tspan><tspan dy="-6.4">-regularization(# 4)</tspan></text><text x="370" y="599.6" font-size="20">(b3)</text><line x1="469" y1="647.8" x2="493" y2="647.8" stroke="#ff2020" stroke-width="1.4"/><text x="495" y="651.8" font-size="11.5">Real force</text><line x1="548" y1="647.8" x2="572" y2="647.8" stroke="#2040ff" stroke-width="1.3" stroke-dasharray="6,3.5"/><text x="574" y="651.8" font-size="11.5">Reconstructed force</text><rect x="518.5" y="670" width="134.9" height="101.2" fill="#fff"/><clipPath id="ci2"><rect x="518.5" y="670" width="134.9" height="101.2"/></clipPath><g clip-path="url(#ci2)"><polyline points="71.1,765.87 551.5,765.87 554.89,764.91 558.87,766.83 563.87,752.77 568.87,713.25 573.48,684.49 578.28,673.41 582.89,675.01 587.5,685.13 592.31,700.15 596.92,717.19 601.91,735.3 606.91,752.45 611.52,764.49 615.94,765.87 619.43,766.46 2497.36,766.46" fill="none" stroke="#ff2020" stroke-width="1.4" stroke-linejoin="round"/><polyline points="71.1,765.87 551.5,765.87 554.89,764.94 558.87,765.71 563.87,758.17 568.87,725 573.48,691.98 578.28,676.67 582.89,677.35 587.5,688.64 592.31,705.27 596.92,723.43 601.91,742.47 606.91,758.92 611.52,765.4 615.94,765.87 619.43,765.87 629.14,765.87 636.42,768 643.69,765.87 2497.36,765.87" fill="none" stroke="#2040ff" stroke-width="1.3" stroke-dasharray="6,3.5" stroke-linejoin="round"/></g><rect x="518.5" y="670" width="134.9" height="101.2" fill="none" stroke="#444" stroke-width="1.3"/><path d="M556.35,771.2v-2.4M556.35,670v2.4M604.87,771.2v-2.4M604.87,670v2.4M653.4,771.2v-2.4M653.4,670v2.4M518.5,765.87h2.4M653.4,765.87h-2.4M518.5,733.92h2.4M653.4,733.92h-2.4M518.5,701.96h2.4M653.4,701.96h-2.4M518.5,670h2.4M653.4,670h-2.4" stroke="#444" stroke-width="1.1" fill="none"/><g font-size="11.3"><text x="556.35" y="786.6" text-anchor="middle">0.01</text><text x="604.87" y="786.6" text-anchor="middle">0.011</text><text x="653.4" y="786.6" text-anchor="middle">0.012</text><text x="514" y="769.87" text-anchor="end">0</text><text x="514" y="737.92" text-anchor="end">30</text><text x="514" y="705.96" text-anchor="end">60</text><text x="514" y="674" text-anchor="end">90</text></g></g>
</svg></body></html>
